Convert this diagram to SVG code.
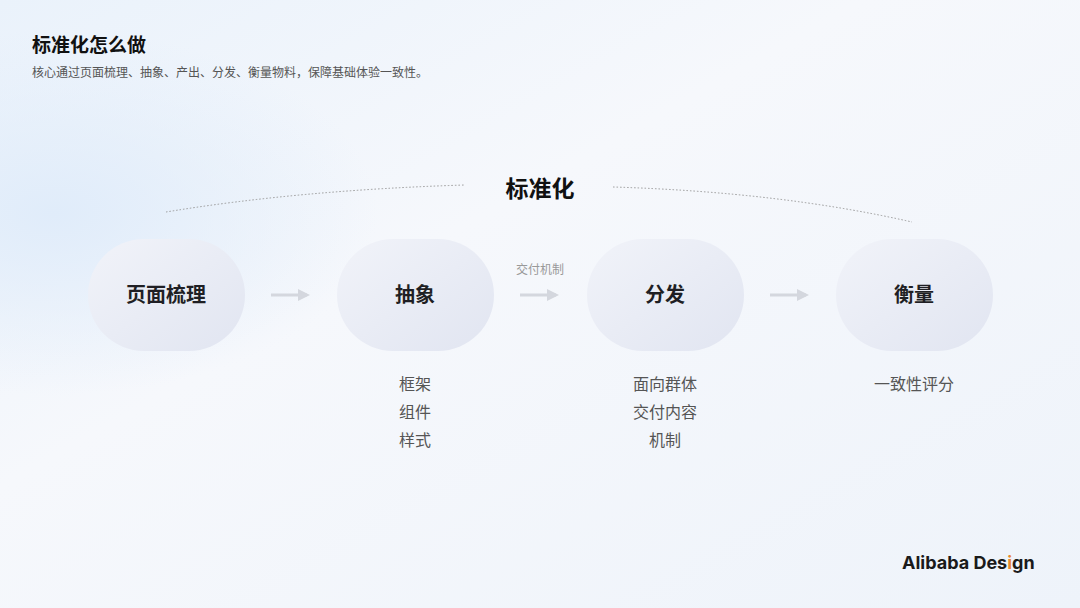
<svg xmlns="http://www.w3.org/2000/svg" width="1080" height="608" viewBox="0 0 1080 608">
<defs>
<linearGradient id="bg" x1="0" y1="0" x2="1" y2="1"><stop offset="0" stop-color="#eaf2fb"/><stop offset="0.4" stop-color="#f6f8fc"/><stop offset="1" stop-color="#eef3fa"/></linearGradient>
<radialGradient id="g1" cx="0.05" cy="0.35" r="0.3"><stop offset="0" stop-color="#e0ecfa"/><stop offset="1" stop-color="#e0ecfa" stop-opacity="0"/></radialGradient>
<linearGradient id="pill" x1="0" y1="0" x2="1" y2="1"><stop offset="0" stop-color="#f1f3f9"/><stop offset="1" stop-color="#e1e5f1"/></linearGradient>
<marker id="ah" markerWidth="4" markerHeight="4" refX="3" refY="2" orient="auto"><path d="M0,0 L4,2 L0,4 z" fill="#d4d7de"/></marker>
</defs>
<style>
.t{font-family:"Noto Sans CJK SC",sans-serif}
.n{font-size:20px;font-weight:bold;fill:#1f1f24;text-anchor:middle}
.s{font-size:16px;fill:#555;text-anchor:middle}
.p{fill:url(#pill)}
.c{stroke:#d4d7de;stroke-width:3;fill:none;marker-end:url(#ah)}
</style>
<rect width="1080" height="608" fill="url(#bg)"/>
<rect width="1080" height="608" fill="url(#g1)"/>
<text class="t" x="32" y="52" font-size="19" font-weight="bold" fill="#111">标准化怎么做</text>
<text class="t" x="32" y="77" font-size="12" fill="#555">核心通过页面梳理、抽象、产出、分发、衡量物料，保障基础体验一致性。</text>
<text class="t" x="540" y="197" font-size="23" font-weight="bold" fill="#111" text-anchor="middle">标准化</text>
<g id="connectors">
<path d="M166,212 Q300,190 465,185" stroke="#999" stroke-width="1" stroke-dasharray="1.5,2" fill="none"/>
<path d="M613,187 Q780,192 912,222" stroke="#999" stroke-width="1" stroke-dasharray="1.5,2" fill="none"/>
<line class="c" x1="271" y1="295" x2="307" y2="295"/>
<line class="c" x1="520" y1="295" x2="556" y2="295"/>
<line class="c" x1="770" y1="295" x2="806" y2="295"/>
<text class="t" x="540" y="274" font-size="12" fill="#999" text-anchor="middle">交付机制</text>
</g>
<g id="n1"><rect class="p" x="88" y="239" width="157" height="112" rx="56"/><text class="t n" x="166" y="302">页面梳理</text></g>
<g id="n2"><rect class="p" x="337" y="239" width="157" height="112" rx="56"/><text class="t n" x="415" y="302">抽象</text>
<text class="t s" x="415" y="390">框架</text><text class="t s" x="415" y="418">组件</text><text class="t s" x="415" y="446">样式</text></g>
<g id="n3"><rect class="p" x="587" y="239" width="157" height="112" rx="56"/><text class="t n" x="665" y="302">分发</text>
<text class="t s" x="665" y="390">面向群体</text><text class="t s" x="665" y="418">交付内容</text><text class="t s" x="665" y="446">机制</text></g>
<g id="n4"><rect class="p" x="836" y="239" width="157" height="112" rx="56"/><text class="t n" x="914" y="302">衡量</text>
<text class="t s" x="914" y="390">一致性评分</text></g>
<text x="902" y="569" font-family="Inter,sans-serif" font-size="18" font-weight="bold" fill="#1a1a1a">Alibaba Des<tspan fill="#e8882e">i</tspan>gn</text>
</svg>
